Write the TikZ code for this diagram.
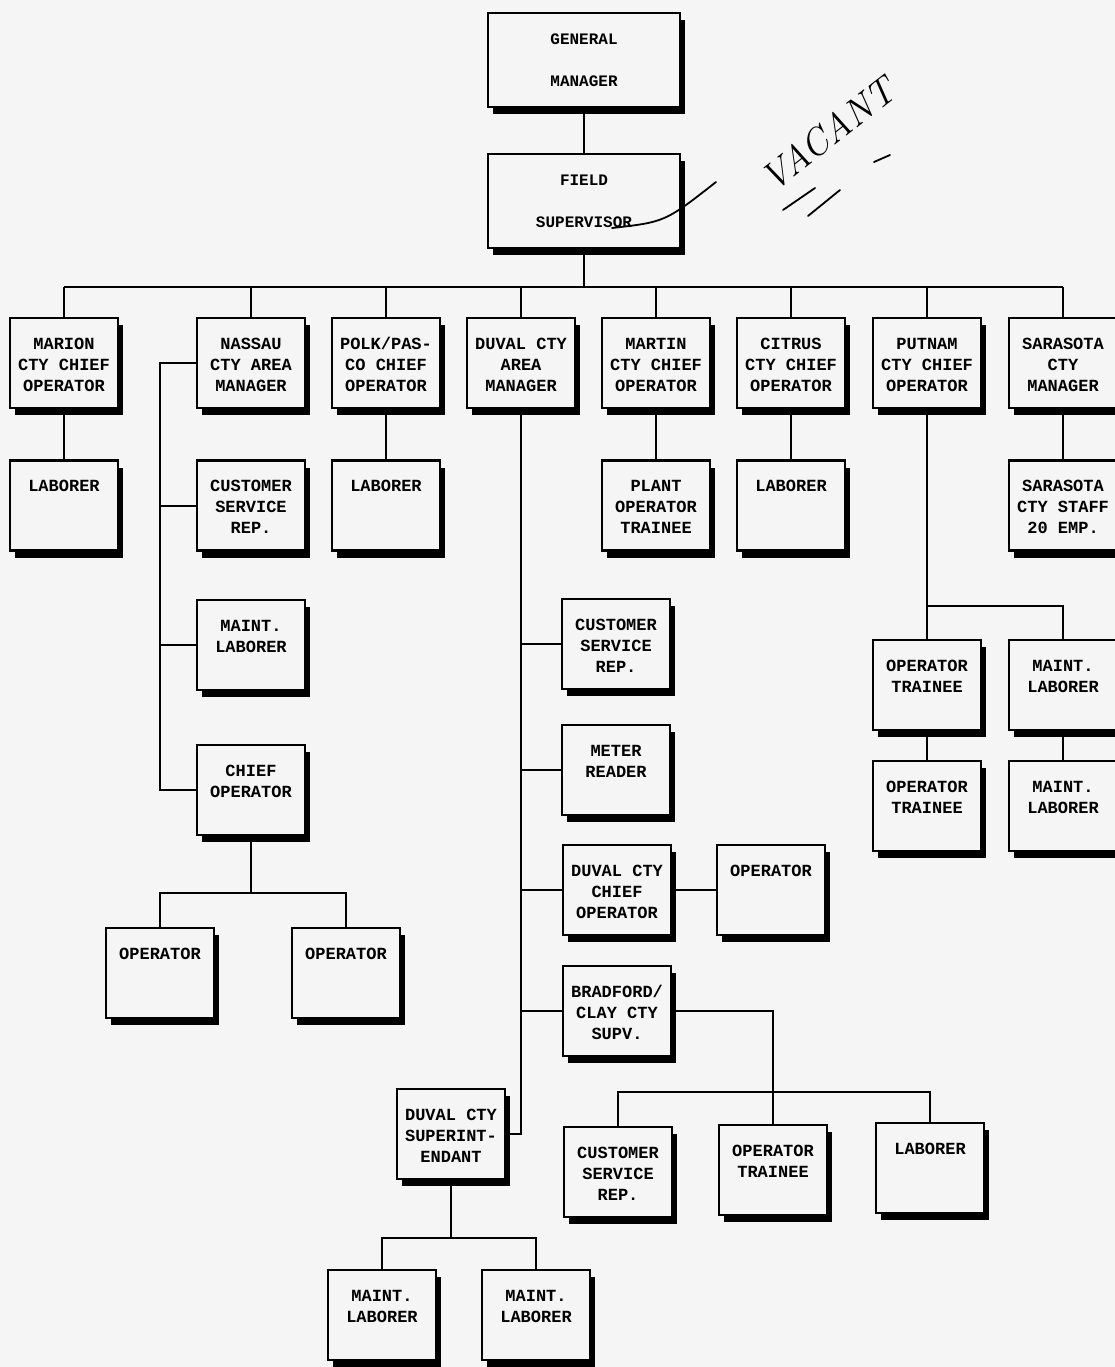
\documentclass[tikz,border=0pt]{standalone}
\usepackage{fontspec}
\setmonofont{Liberation Mono}
\usetikzlibrary{positioning,shadows}
\definecolor{paper}{RGB}{245,245,245}
\newcommand{\unitfont}{\ttfamily\bfseries\fontsize{17}{21}\selectfont}
\newcommand{\unittext}[1]{\parbox[c][88pt][t]{106pt}{\centering\rule{0pt}{30pt}#1}}
\newcommand{\headtext}[1]{\parbox{180pt}{\centering\fontsize{16}{42}\selectfont #1}}
\tikzset{
unit_box/.style={
	% The shape:
	rectangle,
	% The size:
	minimum width=108pt,
	minimum height=90pt,
	inner sep=0pt,
	% The border:
	draw=black,
	line width=2.6pt,
	% The filling:
	fill=paper,
	% a hard black shadow to the lower right
	drop shadow={shadow xshift=5pt,shadow yshift=-7pt,fill=black,opacity=1},
	% Font
	font=\unitfont
},
head_box/.style={
	unit_box,
	% The size:
	minimum width=192pt,
	minimum height=94pt
},
link/.style={line width=2.2pt, black},
pen/.style={line width=1.8pt, black, line cap=round}
}

\begin{document}
\begin{tikzpicture}[x=1pt,y=-1pt]
	\fill[paper] (0,0) rectangle (1115,1367);
	\useasboundingbox (0,0) rectangle (1115,1367);
	% top of the chart
	\node[head_box] (gm) at (584,60) {\headtext{GENERAL\\MANAGER}};
	\node[head_box] (fs) at (584,201) {\headtext{FIELD\\SUPERVISOR}};
	\coordinate (bus) at (584,287);
	% first row
	\node[unit_box] (marion) at (64,363) {\unittext{MARION\\CTY CHIEF\\OPERATOR}};
	\node[unit_box] (nassau) at (251,363) {\unittext{NASSAU\\CTY AREA\\MANAGER}};
	\node[unit_box] (polk) at (386,363) {\unittext{POLK/PAS-\\CO CHIEF\\OPERATOR}};
	\node[unit_box] (duval) at (521,363) {\unittext{DUVAL CTY\\AREA\\MANAGER}};
	\node[unit_box] (martin) at (656,363) {\unittext{MARTIN\\CTY CHIEF\\OPERATOR}};
	\node[unit_box] (citrus) at (791,363) {\unittext{CITRUS\\CTY CHIEF\\OPERATOR}};
	\node[unit_box] (putnam) at (927,363) {\unittext{PUTNAM\\CTY CHIEF\\OPERATOR}};
	\node[unit_box] (sarasota) at (1063,363) {\unittext{SARASOTA\\CTY\\MANAGER}};
	% second row
	\node[unit_box, below=50pt of marion] (marionlab) {\unittext{LABORER}};
	\node[unit_box, below=50pt of nassau] (ncsr) {\unittext{CUSTOMER\\SERVICE\\REP.}};
	\node[unit_box, below=50pt of polk] (polklab) {\unittext{LABORER}};
	\node[unit_box, below=50pt of martin] (martintr) {\unittext{PLANT\\OPERATOR\\TRAINEE}};
	\node[unit_box, below=50pt of citrus] (citruslab) {\unittext{LABORER}};
	\node[unit_box, below=50pt of sarasota] (sstaff) {\unittext{SARASOTA\\CTY STAFF\\20 EMP.}};
	% nassau column
	\node[unit_box] (nmaint) at (251,645) {\unittext{MAINT.\\LABORER}};
	\node[unit_box] (nchief) at (251,790) {\unittext{CHIEF\\OPERATOR}};
	\node[unit_box] (nop1) at (160,973) {\unittext{OPERATOR}};
	\node[unit_box] (nop2) at (346,973) {\unittext{OPERATOR}};
	\coordinate (nspine) at (160,363);
	\coordinate (cbus) at (251,893);
	% duval column
	\node[unit_box] (dcsr) at (616,644) {\unittext{CUSTOMER\\SERVICE\\REP.}};
	\node[unit_box] (dmeter) at (616,770) {\unittext{METER\\READER}};
	\node[unit_box] (dchief) at (617,890) {\unittext{DUVAL CTY\\CHIEF\\OPERATOR}};
	\node[unit_box] (dop) at (771,890) {\unittext{OPERATOR}};
	\node[unit_box] (dbrad) at (617,1011) {\unittext{BRADFORD/\\CLAY CTY\\SUPV.}};
	\node[unit_box] (dsup) at (451,1134) {\unittext{DUVAL CTY\\SUPERINT-\\ENDANT}};
	\node[unit_box] (bcsr) at (618,1172) {\unittext{CUSTOMER\\SERVICE\\REP.}};
	\node[unit_box] (bop) at (773,1170) {\unittext{OPERATOR\\TRAINEE}};
	\node[unit_box] (blab) at (930,1168) {\unittext{LABORER}};
	\node[unit_box] (sml1) at (382,1315) {\unittext{MAINT.\\LABORER}};
	\node[unit_box] (sml2) at (536,1315) {\unittext{MAINT.\\LABORER}};
	\coordinate (bbus) at (773,1092);
	\coordinate (sbus) at (451,1238);
	% putnam column
	\node[unit_box] (pot1) at (927,685) {\unittext{OPERATOR\\TRAINEE}};
	\node[unit_box] (pml1) at (1063,685) {\unittext{MAINT.\\LABORER}};
	\node[unit_box] (pot2) at (927,806) {\unittext{OPERATOR\\TRAINEE}};
	\node[unit_box] (pml2) at (1063,806) {\unittext{MAINT.\\LABORER}};
	\coordinate (pbus) at (927,606);
	% connectors
	\draw[link] (gm) -- (fs);
	\draw[link] (fs) -- (bus);
	\draw[link] (bus -| marion) -- (bus -| sarasota);
	\foreach \u in {marion,nassau,polk,duval,martin,citrus,putnam,sarasota}
		\draw[link] (bus -| \u) -- (\u.north);
	\draw[link] (marion) -- (marionlab);
	\draw[link] (polk) -- (polklab);
	\draw[link] (martin) -- (martintr);
	\draw[link] (citrus) -- (citruslab);
	\draw[link] (sarasota) -- (sstaff);
	\draw[link] (nassau.west) -- (nspine) |- (nchief.west);
	\foreach \u in {ncsr,nmaint}
		\draw[link] (nspine |- \u.west) -- (\u.west);
	\draw[link] (nchief) -- (cbus);
	\draw[link] (nop1) |- (cbus) -| (nop2);
	\draw[link] (duval) |- (dsup);
	\foreach \u in {dcsr,dmeter,dchief,dbrad}
		\draw[link] (duval |- \u.west) -- (\u.west);
	\draw[link] (dchief) -- (dop);
	\draw[link] (dbrad) -| (bop);
	\draw[link] (bcsr) |- (bbus) -| (blab);
	\draw[link] (dsup) -- (sbus);
	\draw[link] (sml1) |- (sbus) -| (sml2);
	\draw[link] (putnam) -- (pot1);
	\draw[link] (pbus) -| (pml1);
	\draw[link] (pot1) -- (pot2);
	\draw[link] (pml1) -- (pml2);
	% hand written note
	\node[rotate=38, inner sep=0pt, font=\itshape\fontsize{38}{38}\selectfont] (vacant) at (828,134) {VACANT};
	\coordinate (fsmark) at (612,228);
	\coordinate (noteend) at (716,182);
	\draw[pen] (fsmark) .. controls (665,222) .. (noteend);
	\draw[pen] (783,210) -- (815,188);
	\draw[pen] (808,216) -- (840,190);
	\draw[pen] (874,162) -- (890,155);
\end{tikzpicture}
\end{document}
